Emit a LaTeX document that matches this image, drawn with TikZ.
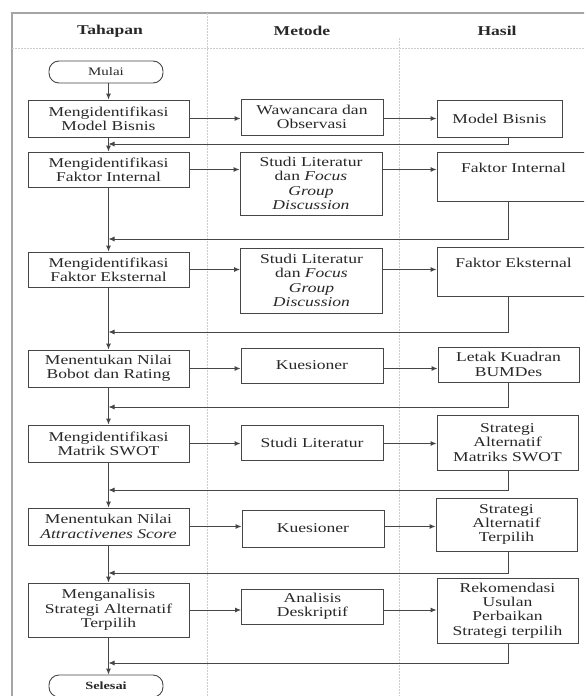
\documentclass[tikz,border=0pt]{standalone}
\usepackage{fontspec}
\setmainfont{Liberation Serif}[FakeStretch=1.3]
\usepackage{tikz}
\usetikzlibrary{arrows.meta}
\definecolor{ink}{RGB}{40,40,40}
\definecolor{edge}{RGB}{70,70,70}
\definecolor{frame}{RGB}{165,165,165}
\definecolor{grid}{RGB}{205,205,205}
\begin{document}
\begin{tikzpicture}[
  x=1pt, y=-1pt,
  tah/.style={rectangle, draw=edge, line width=0.9pt, fill=white,
              minimum width=161pt, inner sep=0pt, align=center, text=ink,
              font=\fontsize{13.5}{14.3}\selectfont},
  met/.style={tah, minimum width=142pt},
  has/.style={tah, minimum width=141pt},
  ter/.style={tah, rounded corners=10pt, minimum width=114pt,
              minimum height=22pt, font=\fontsize{11.5}{12}\selectfont},
  hdr/.style={font=\bfseries\fontsize{13.5}{14}\selectfont, text=ink},
  lin/.style={draw=edge, line width=0.9pt},
  arr/.style={lin, -{Latex[length=6pt, width=5pt]}},
  bdr/.style={draw=frame, line width=2pt},
  sep/.style={draw=grid, line width=0.6pt, dash pattern=on 1.5pt off 1.5pt}]
  \useasboundingbox (0,0) rectangle (584,696);
  \clip (0,0) rectangle (584,696);
  \fill[white] (0,0) rectangle (584,696);
  % frame and lanes
  \draw[bdr] (12,700) -- (12,13) -- (590,13);
  \draw[sep] (207,13) -- (207,700);
  \draw[sep] (399,38) -- (399,700);
  \draw[sep] (12,48) -- (590,48);
  \node[hdr] (hTah) at (110,31) {Tahapan};
  \node[hdr] (hMet) at (302,31) {Metode};
  \node[hdr] (hHas) at (497,31) {Hasil};
  \coordinate (v) at (508,0);
  % tahapan
  \node[ter] (mulai) at (106,72) {Mulai};
  \node[tah, minimum height=37pt] (t1) at (108.5,118.5) {Mengidentifikasi\\Model Bisnis};
  \node[tah, minimum height=35pt] (t2) at (108.5,169.5) {Mengidentifikasi\\Faktor Internal};
  \node[tah, minimum height=35pt] (t3) at (108.5,269.5) {Mengidentifikasi\\Faktor Eksternal};
  \node[tah, minimum height=37pt] (t4) at (108.5,368.5) {Menentukan Nilai\\Bobot dan Rating};
  \node[tah, minimum height=37pt] (t5) at (108.5,443.5) {Mengidentifikasi\\Matrik SWOT};
  \node[tah, minimum height=37pt] (t6) at (108.5,526.5) {Menentukan Nilai\\\textit{Attractivenes Score}};
  \node[tah, minimum height=54pt] (t7) at (108.5,610) {Menganalisis\\Strategi Alternatif\\Terpilih};
  \node[ter, font=\bfseries\fontsize{11}{12}\selectfont] (selesai) at (106,686) {Selesai};
  % metode
  \node[met, minimum height=36pt] (m1) at (312,117) {Wawancara dan\\Observasi};
  \node[met, minimum height=63pt] (m2) at (311,183.5) {Studi Literatur\\dan \textit{Focus}\\\textit{Group}\\\textit{Discussion}};
  \node[met, minimum height=65pt] (m3) at (311.5,280.5) {Studi Literatur\\dan \textit{Focus}\\\textit{Group}\\\textit{Discussion}};
  \node[met, minimum height=35pt] (m4) at (312,365.5) {Kuesioner};
  \node[met, minimum height=35pt] (m5) at (312,442.5) {Studi Literatur};
  \node[met, minimum height=37pt] (m6) at (313,528.5) {Kuesioner};
  \node[met, minimum height=35pt] (m7) at (312.5,606.5) {Analisis\\Deskriptif};
  % hasil
  \node[has, minimum width=125pt, minimum height=37pt] (h1) at (499.5,118.5) {Model Bisnis};
  \node[has, minimum width=153pt, minimum height=49pt] (h2) at (513.5,176.5) {Faktor Internal\\[4pt]};
  \node[has, minimum width=153pt, minimum height=49pt] (h3) at (513.5,271.5) {Faktor Eksternal\\[4pt]};
  \node[has, minimum height=35pt] (h4) at (508.5,364.5) {Letak Kuadran\\BUMDes};
  \node[has, minimum height=55pt] (h5) at (507.5,442.5) {Strategi\\Alternatif\\Matriks SWOT};
  \node[has, minimum height=53pt] (h6) at (506.5,524.5) {Strategi\\Alternatif\\Terpilih};
  \node[has, minimum height=65pt] (h7) at (507.5,610.5) {Rekomendasi\\Usulan\\Perbaikan\\Strategi terpilih};
  % feedback joins on the main line
  \coordinate (f1) at (108.5,144);
  \coordinate (f2) at (108.5,239);
  \coordinate (f3) at (108.5,332);
  \coordinate (f4) at (108.5,407);
  \coordinate (f5) at (108.5,490);
  \coordinate (f6) at (108.5,573);
  \coordinate (f7) at (108.5,663);
  % main line
  \draw[arr] (mulai.south -| t1.north) -- (t1.north);
  \draw[arr] (t1.south) -- (t2.north);
  \draw[arr] (t2.south) -- (t3.north);
  \draw[arr] (t3.south) -- (t4.north);
  \draw[arr] (t4.south) -- (t5.north);
  \draw[arr] (t5.south) -- (t6.north);
  \draw[arr] (t6.south) -- (t7.north);
  \draw[arr] (t7.south) -- (selesai.north -| t7.south);
  % across the lanes
  \draw[arr] (t1.east) -- (t1.east -| m1.west);
  \draw[arr] (t1.east -| m1.east) -- (t1.east -| h1.west);
  \draw[arr] (t2.east) -- (t2.east -| m2.west);
  \draw[arr] (t2.east -| m2.east) -- (t2.east -| h2.west);
  \draw[arr] (t3.east) -- (t3.east -| m3.west);
  \draw[arr] (t3.east -| m3.east) -- (t3.east -| h3.west);
  \draw[arr] (t4.east) -- (t4.east -| m4.west);
  \draw[arr] (t4.east -| m4.east) -- (t4.east -| h4.west);
  \draw[arr] (t5.east) -- (t5.east -| m5.west);
  \draw[arr] (t5.east -| m5.east) -- (t5.east -| h5.west);
  \draw[arr] (t6.east) -- (t6.east -| m6.west);
  \draw[arr] (t6.east -| m6.east) -- (t6.east -| h6.west);
  \draw[arr] (t7.east) -- (t7.east -| m7.west);
  \draw[arr] (t7.east -| m7.east) -- (t7.east -| h7.west);
  % back to the main line
  \draw[arr] (v |- h1.south) |- (f1);
  \draw[arr] (v |- h2.south) |- (f2);
  \draw[arr] (v |- h3.south) |- (f3);
  \draw[arr] (v |- h4.south) |- (f4);
  \draw[arr] (v |- h5.south) |- (f5);
  \draw[arr] (v |- h6.south) |- (f6);
  \draw[arr] (v |- h7.south) |- (f7);
\end{tikzpicture}
\end{document}
